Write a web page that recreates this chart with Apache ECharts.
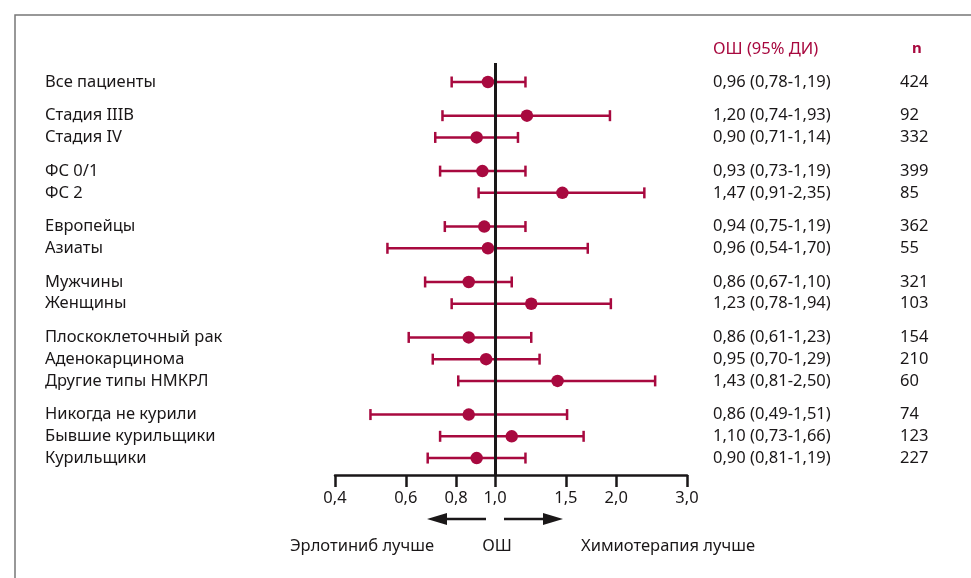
<!DOCTYPE html>
<html>
<head>
<meta charset="utf-8">
<script src="https://cdn.jsdelivr.net/npm/echarts@6/dist/echarts.min.js"></script>
<style>
html,body{margin:0;padding:0;background:#fff;}
#main{width:971px;height:578px;}
</style>
</head>
<body>
<div id="main"></div>
<script>
// подгруппы
var rowNames = ["Все пациенты","Стадия IIIB","Стадия IV","ФС 0/1","ФС 2","Европейцы","Азиаты","Мужчины","Женщины",
	"Плоскоклеточный рак","Аденокарцинома","Другие типы НМКРЛ","Никогда не курили","Бывшие курильщики","Курильщики"];
var groupIdx = [0,1,1,2,2,3,3,4,4,5,5,5,6,6,6];
// ОШ и границы ДИ (как нарисовано)
var orVal  = [0.96,1.20,0.90,0.93,1.47,0.94,0.96,0.86,1.23,0.86,0.95,1.43,0.86,1.10,0.90];
var ciLow  = [0.78,0.74,0.71,0.73,0.91,0.75,0.54,0.67,0.78,0.61,0.70,0.81,0.49,0.73,0.68];
var ciHigh = [1.19,1.93,1.14,1.19,2.35,1.19,1.70,1.10,1.94,1.23,1.29,2.50,1.51,1.66,1.19];
// текст колонок справа
var orText = ["0,96 (0,78-1,19)","1,20 (0,74-1,93)","0,90 (0,71-1,14)","0,93 (0,73-1,19)","1,47 (0,91-2,35)",
	"0,94 (0,75-1,19)","0,96 (0,54-1,70)","0,86 (0,67-1,10)","1,23 (0,78-1,94)","0,86 (0,61-1,23)",
	"0,95 (0,70-1,29)","1,43 (0,81-2,50)","0,86 (0,49-1,51)","1,10 (0,73-1,66)","0,90 (0,81-1,19)"];
var nText = ["424","92","332","399","85","362","55","321","103","154","210","60","74","123","227"];
var xTicks = [0.4,0.6,0.8,1.0,1.5,2.0,3.0];

var RED = '#a8093f';
var INK = '#1a1718';
var FONT = "'Noto Sans', sans-serif";
var GAP = 0.55;

// позиция строки по оси Y (индекс строки + промежуток между группами)
var pos = [];
for(var i=0;i<rowNames.length;i++){
	pos.push(i + GAP*groupIdx[i]);
}
function rowOf(v){
	for(var i=0;i<pos.length;i++){
		if(Math.abs(pos[i]-v)<1e-6) return i;
	}
	return -1;
}

var ciData = [];
var ptData = [];
for(var i=0;i<rowNames.length;i++){
	ciData.push([ciLow[i], ciHigh[i], pos[i]]);
	ptData.push([orVal[i], pos[i]]);
}

var chart = echarts.init(document.getElementById('main'));

function yAx(position, margin, fn){
	return {
		type:'value', inverse:true, min:-0.874, max:18.08, position:position, offset:0,
		axisLine:{show:false}, axisTick:{show:false}, splitLine:{show:false},
		axisLabel:{
			customValues:pos, align:'left', margin:margin,
			fontFamily:FONT, fontSize:16.5, color:INK,
			formatter:function(v){ var r=rowOf(v); return r<0 ? '' : fn(r); }
		}
	};
}

var option = {
	animation:false,
	backgroundColor:'#fff',
	grid:{left:335, right:284, top:63, bottom:103},
	xAxis:{
		type:'log', min:0.4, max:3, position:'bottom',
		axisLine:{show:true, onZero:false, lineStyle:{color:INK, width:2.5}},
		axisTick:{show:true, customValues:xTicks, length:12, lineStyle:{color:INK, width:2.5}},
		axisLabel:{customValues:xTicks, margin:15, fontFamily:FONT, fontSize:16.5, color:INK,
			formatter:function(v){ return v.toFixed(1).replace('.', ','); }},
		splitLine:{show:false}
	},
	yAxis:[
		yAx('left', 290, function(r){ return rowNames[r]; }),
		yAx('right', 26, function(r){ return orText[r]; }),
		yAx('right', 213, function(r){ return nText[r]; })
	],
	series:[
		{
			type:'custom', z:2, yAxisIndex:0,
			encode:{x:[0,1], y:2},
			data:ciData,
			renderItem:function(params, api){
				var y = api.value(2);
				var a = api.coord([api.value(0), y]);
				var b = api.coord([api.value(1), y]);
				var h = 5.5;
				var st = {stroke:RED, lineWidth:2.5};
				return {type:'group', children:[
					{type:'line', shape:{x1:a[0],y1:a[1],x2:b[0],y2:b[1]}, style:st},
					{type:'line', shape:{x1:a[0],y1:a[1]-h,x2:a[0],y2:a[1]+h}, style:st},
					{type:'line', shape:{x1:b[0],y1:b[1]-h,x2:b[0],y2:b[1]+h}, style:st}
				]};
			}
		},
		{
			type:'scatter', z:3, yAxisIndex:0,
			symbol:'circle', symbolSize:12.5,
			itemStyle:{color:RED, opacity:1},
			data:ptData
		},
		{
			// линия ОШ = 1
			type:'line', z:5, yAxisIndex:0, data:[],
			markLine:{silent:true, symbol:'none', label:{show:false},
				lineStyle:{color:INK, width:3, type:'solid'},
				data:[{xAxis:1}]}
		}
	],
	graphic:[
		// рамка
		{type:'polyline', shape:{points:[[15,578],[15,15],[971,15]]}, style:{stroke:'#777', lineWidth:1.5, fill:null}},
		// заголовки колонок
		{type:'text', left:713, top:41, style:{text:'ОШ (95% ДИ)', fill:RED, font:'16.5px ' + FONT}},
		{type:'text', left:912, top:41, style:{text:'n', fill:RED, font:'bold 15px ' + FONT}},
		// стрелки
		{type:'line', shape:{x1:486,y1:519,x2:440,y2:519}, style:{stroke:INK, lineWidth:2.5}},
		{type:'polygon', shape:{points:[[427,519],[447,513],[447,525]]}, style:{fill:INK}},
		{type:'line', shape:{x1:504,y1:519,x2:550,y2:519}, style:{stroke:INK, lineWidth:2.5}},
		{type:'polygon', shape:{points:[[563,519],[543,513],[543,525]]}, style:{fill:INK}},
		// подписи снизу
		{type:'text', x:362, y:546, style:{text:'Эрлотиниб лучше', fill:INK, font:'16.5px ' + FONT, align:'center', verticalAlign:'middle'}},
		{type:'text', x:497, y:546, style:{text:'ОШ', fill:INK, font:'16.5px ' + FONT, align:'center', verticalAlign:'middle'}},
		{type:'text', x:668, y:546, style:{text:'Химиотерапия лучше', fill:INK, font:'16.5px ' + FONT, align:'center', verticalAlign:'middle'}}
	]
};
chart.setOption(option);
</script>
</body>
</html>
